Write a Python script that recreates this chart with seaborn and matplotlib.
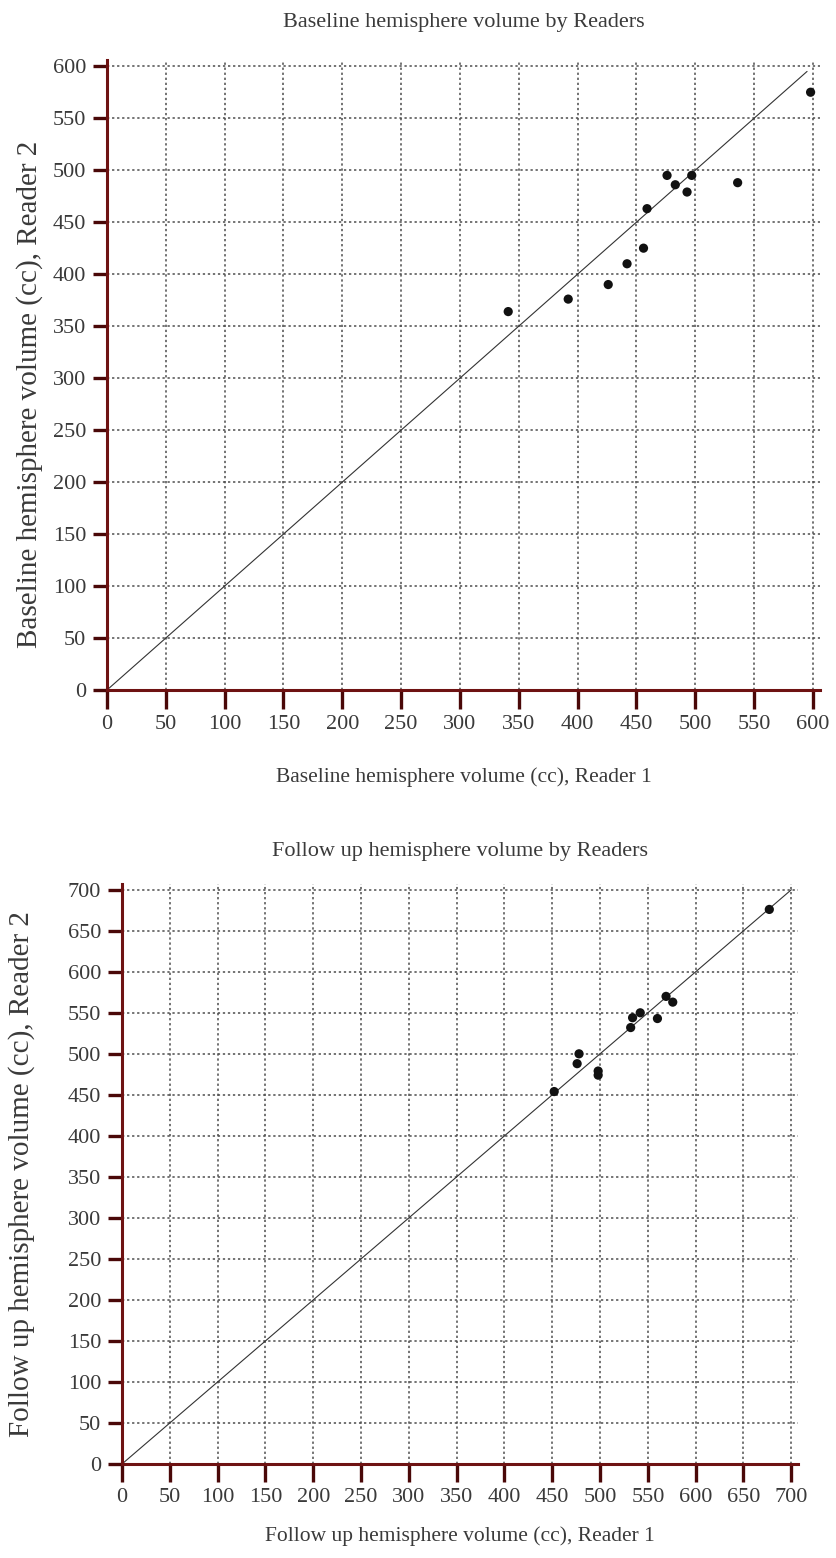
import numpy as np
import pandas as pd
import matplotlib
matplotlib.use("Agg")
import matplotlib.pyplot as plt
import seaborn as sns

# ==========================================
# Data
# ==========================================
base_reader1 = [341, 392, 426, 442, 456, 459, 476, 483, 493, 497, 536, 598]
base_reader2 = [364, 376, 390, 410, 425, 463, 495, 486, 479, 495, 488, 575]

follow_reader1 = [452, 476, 478, 498, 498, 532, 534, 542, 560, 569, 576, 677]
follow_reader2 = [454, 488, 500, 479, 474, 532, 544, 550, 543, 570, 563, 676]

base_ticks = list(range(0, 601, 50))
follow_ticks = list(range(0, 701, 50))

# identity line ends
base_identity = [0, 595]
follow_identity = [0, 700]

# ==========================================
# Style
# ==========================================
sns.set_theme(style="white")
plt.rcParams['font.family'] = ['Liberation Serif', 'DejaVu Serif']

TEXT = "#3a3a3a"
SPINE = "#6e1212"
TICK = "#4a0808"
GRID = "#4d4d4d"


def draw_panel(ax, r1, r2, identity, ticks, lim, title, xlabel, ylabel,
               xtick_len, title_pad, xlabel_pad, ylabel_xy):
    df = pd.DataFrame({"r1": r1, "r2": r2})
    line = pd.DataFrame({"x": identity, "y": identity})

    sns.lineplot(data=line, x="x", y="y", ax=ax, color="#333333",
                 linewidth=0.8, zorder=2)
    sns.scatterplot(data=df, x="r1", y="r2", ax=ax, color="#111111",
                    s=44, edgecolor="none", zorder=3)

    ax.set_xlim(0, lim)
    ax.set_ylim(0, lim)
    ax.set_xticks(ticks)
    ax.set_yticks(ticks)
    ax.set_xticklabels([str(t) for t in ticks])
    ax.set_yticklabels([str(t) for t in ticks])

    ax.grid(True, color=GRID, linestyle=(0, (1.5, 1.8)), linewidth=1.1)
    ax.set_axisbelow(True)

    for side in ["top", "right"]:
        ax.spines[side].set_visible(False)
    for side in ["left", "bottom"]:
        ax.spines[side].set_color(SPINE)
        ax.spines[side].set_linewidth(2.2)
        ax.spines[side].set_zorder(4)

    ax.tick_params(axis="x", direction="out", length=xtick_len, width=2.4,
                   color=TICK, labelsize=16, labelcolor=TEXT, pad=4,
                   bottom=True)
    ax.tick_params(axis="y", direction="out", length=10, width=2.4,
                   color=TICK, labelsize=16, labelcolor=TEXT, pad=5,
                   left=True)

    ax.set_title(title, fontsize=16, color=TEXT, pad=title_pad)
    ax.set_xlabel(xlabel, fontsize=15.5, color=TEXT, labelpad=xlabel_pad)
    ax.set_ylabel(ylabel, fontsize=21, color=TEXT)
    ax.yaxis.set_label_coords(*ylabel_xy)


fig = plt.figure(figsize=(8.36, 15.58), dpi=100)
W, H = 836, 1558

ax1 = fig.add_axes([107 / W, (H - 690) / H, 713 / W, 630 / H])
ax2 = fig.add_axes([122 / W, (H - 1464) / H, 676 / W, 580 / H])

draw_panel(ax1, base_reader1, base_reader2, base_identity, base_ticks, 606,
           "Baseline hemisphere volume by Readers",
           "Baseline hemisphere volume (cc), Reader 1",
           "Baseline hemisphere volume (cc), Reader 2",
           xtick_len=14, title_pad=24, xlabel_pad=24, ylabel_xy=(-0.09, 0.47))

draw_panel(ax2, follow_reader1, follow_reader2, follow_identity, follow_ticks, 707,
           "Follow up hemisphere volume by Readers",
           "Follow up hemisphere volume (cc), Reader 1",
           "Follow up hemisphere volume (cc), Reader 2",
           xtick_len=13, title_pad=20, xlabel_pad=14, ylabel_xy=(-0.128, 0.5))

fig.savefig("out.png", dpi=100, facecolor="white")
